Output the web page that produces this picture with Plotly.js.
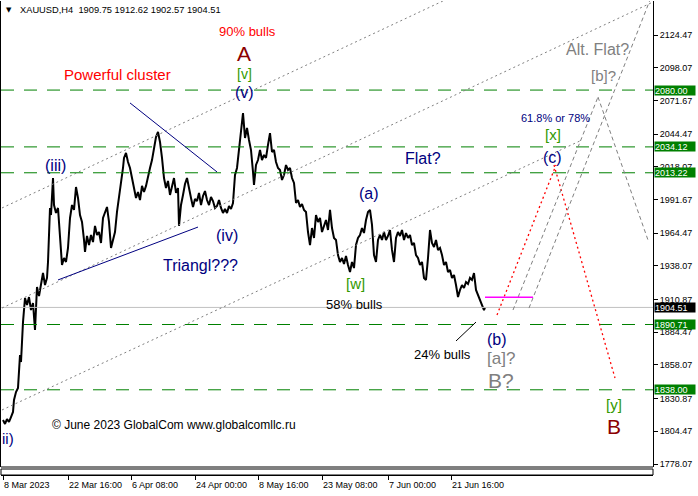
<!DOCTYPE html>
<html><head><meta charset="utf-8">
<script src="https://cdn.plot.ly/plotly-3.0.1.min.js"></script>
<style>html,body{margin:0;padding:0;background:#fff}#chart{width:698px;height:496px}</style>
</head><body><div id="chart"></div>
<script>
// ---- data ----
const bars = [0,2,4,6,8,10,11,13,15,16,17,18,19,20,21,22,24,26,28,30,32,33,34,36,38,40,42,44,45,46,47,48,50,51,53,55,57,58,59,61,63,65,67,69,71,73,75,77,79,81,82,84,86,88,90,92,94,96,98,100,102,104,106,108,110,112,114,116,118,120,121,123,125,127,129,131,133,135,137,139,141,143,145,147,149,151,153,155,157,159,161,163,165,167,169,171,173,175,176,178,180,182,184,186,188,190,192,194,196,198,200,202,204,206,208,210,212,214,216,218,220,222,224,226,228,230,232,234,236,238,240,242,244,246,248,250,251,253,255,257,259,261,263,265,267,269,271,273,275,277,279,281,283,285,287,289,291,293,295,297,299,301,303,305,307,309,311,313,315,317,319,321,323,325,327,329,331,333,335,337,339,341,343,345,347,349,351,353,355,357,359,361,363,365,367,369,371,373,375,377,379,381,383,385,387,389,391,393,395,397,399,401,403,405,407,409,411,413,415,417,419,421,423,425,427,429,431,433,435,437,439,441,443,445,447,449,451,453,455,457,459,461,463,465,467,469,471,473,475,477,479,481,482];
const closes = [1813.6,1810.4,1814.4,1812.0,1816.0,1820.1,1829.8,1836.2,1839.5,1852.4,1866.1,1860.4,1882.2,1892.7,1902.4,1912.1,1906.5,1912.9,1902.4,1908.1,1886.3,1900.8,1921.0,1913.7,1922.6,1932.3,1922.6,1928.3,1941.2,1959.0,1984.8,1979.1,2009.0,1987.2,1980.8,1984.8,1963.0,1950.9,1938.8,1944.4,1941.2,1952.5,1976.7,1987.2,1983.2,2001.7,1992.9,1979.1,1973.5,1959.0,1949.3,1962.2,1954.9,1963.0,1957.3,1970.3,1963.0,1965.4,1956.5,1976.7,1981.6,1985.6,1973.5,1952.5,1959.0,1965.4,1981.6,1992.9,2003.4,2017.1,2025.2,2029.2,2021.9,2017.1,2009.0,1999.3,1992.9,1997.7,1991.2,2002.6,1997.7,2002.6,2011.4,2017.1,2023.5,2033.2,2042.1,2046.2,2038.1,2025.2,2009.0,2000.9,2006.6,1995.3,2002.6,2009.0,1996.9,2000.9,1970.3,1987.2,1995.3,2004.2,2009.0,1999.3,1992.9,1985.6,1992.1,1990.4,1996.9,1987.2,1994.5,1998.5,1991.2,1987.2,1993.7,1990.4,1984.8,1986.4,1991.2,1984.8,1980.8,1984.0,1980.8,1986.4,1984.0,1988.8,2011.4,2017.1,2031.6,2049.4,2061.5,2041.3,2049.4,2039.7,2031.6,2013.9,2003.4,2019.5,2023.5,2031.6,2023.5,2027.6,2025.2,2035.7,2045.3,2030.0,2031.6,2021.9,2017.1,2015.5,2007.4,2011.4,2019.5,2015.5,2017.1,2009.0,2005.0,1988.8,1991.2,1985.6,1988.0,1983.2,1981.6,1965.4,1954.9,1968.6,1960.6,1979.1,1973.5,1976.7,1965.4,1970.3,1975.1,1967.0,1983.2,1968.6,1960.6,1959.0,1946.8,1941.2,1944.4,1939.6,1946.0,1938.8,1933.1,1941.2,1936.3,1954.9,1960.6,1963.0,1968.6,1964.6,1975.1,1981.6,1983.2,1971.1,1946.8,1941.2,1959.0,1963.0,1959.0,1965.4,1959.0,1962.2,1967.0,1950.9,1941.2,1960.6,1965.4,1962.2,1967.0,1959.0,1964.6,1960.6,1963.0,1954.9,1956.5,1946.8,1944.4,1938.8,1941.2,1928.3,1926.7,1944.4,1967.0,1956.5,1953.3,1959.0,1950.9,1952.5,1946.8,1938.8,1941.2,1933.1,1934.7,1928.3,1930.7,1922.6,1912.9,1918.6,1922.6,1920.2,1925.0,1923.4,1928.3,1926.7,1932.3,1918.6,1914.5,1910.5,1907.3,1902.4,1904.51];

const priceTicks = [2124.47,2098.07,2071.67,2044.47,2018.07,1991.67,1964.47,1938.07,1910.87,1884.47,1858.07,1830.87,1804.47,1778.07];
const timeTickBars = [0,65,128,192,255,319,385,448];
const timeTickLabels = ['8 Mar 2023','22 Mar 16:00','6 Apr 08:00','24 Apr 00:00','8 May 16:00','23 May 08:00','7 Jun 00:00','21 Jun 16:00'];
const levels = [2080.00,2034.12,2013.22,1890.71,1838.00];
const lastPrice = 1904.51;
const lastHigh = 1912.62;
const header = 'XAUUSD,H4  1909.75 1912.62 1902.57 1904.51';

// trend lines [bar0, price0, bar1, price1]
const channelLines = [[-1,1984.8,442,2152.7],[-1,1904.0,650,2151.1],[-1,1821.7,579,2039.7]];
const clusterLine = [127,2069.6,214,2013.9];
const triangleLine = [55,1926.7,195,1969.4];
const bullsPointer = [453,1877.4,473,1892.7];
const redPath = [[494,1898.4,553,2019.5],[551,2019.5,612,1847.5]];
const altPath = [[510,1902.4,595,2074.4],[595,2074.4,645,1958.9],[526,1904.0,647,2152.7]];
const magentaLine = [482,lastHigh,530,lastHigh];

// labels [text, bar, price, size, color]
const NAVY='#000080', GREEN='#339900', DRED='#8b0000', RED='#ff0000', GRAY='#808080';
const labels = [
 ['90% bulls',244,2127.7,13,RED],
 ['A',241,2109.9,21,DRED],
 ['[v]',241,2093.0,14,GREEN],
 ['(v)',241,2078.4,16,NAVY],
 ['Powerful cluster',114,2092.2,15,RED],
 ['(iii)',52,2019.5,16,NAVY],
 ['(iv)',224,1962.2,16,NAVY],
 ['Triangl???',197,1938.0,16,NAVY],
 ['(a)',366,1996.1,16,NAVY],
 ['Flat?',420,2024.4,16,NAVY],
 ['[w]',352,1924.2,15,GREEN],
 ['58% bulls',351,1906.5,13,'#000000'],
 ['24% bulls',439,1866.9,13,'#000000'],
 ['(b)',494,1879.0,16,NAVY],
 ['[a]?',498,1862.9,17,GRAY],
 ['B?',498,1845.9,21,GRAY],
 ['[y]',611,1826.5,15,GREEN],
 ['B',611,1808.0,21,DRED],
 ['(c)',549,2025.2,16,NAVY],
 ['[x]',550,2044.5,15,GREEN],
 ['61.8% or 78%',552,2057.5,11,NAVY],
 ['Alt. Flat?',594,2112.4,16,GRAY],
 ['[b]?',600,2091.4,15,GRAY],
 ['ii)',5,1798.3,15,NAVY]
];

// ---- layout geometry ----
const H=496, W=698, mt=1, mb=21, ml=1, mr=45;
const plotH = H-mt-mb;              // 474
const paneBottom = 467;
const dom0 = (mt+plotH-paneBottom)/plotH;
const pyToPaper = py => (mt+plotH-py)/plotH;
const pxToPaper = px => (px-ml)/(W-ml-mr);
const FONT = 'Liberation Sans, Arial, sans-serif';

const shapes = [];
function seg(s, color, dash, width){
  shapes.push({type:'line',xref:'x',yref:'y',x0:s[0],y0:s[1],x1:s[2],y1:s[3],line:{color:color,dash:dash,width:width||1}});
}
levels.forEach(v=>shapes.push({type:'line',xref:'paper',yref:'y',x0:0,x1:1,y0:v,y1:v,line:{color:'#008000',width:1,dash:'13px,10px'}}));
shapes.push({type:'line',xref:'paper',yref:'y',x0:0,x1:1,y0:lastPrice,y1:lastPrice,line:{color:'#c0c0c0',width:1}});
channelLines.forEach(s=>seg(s,'#808080','2px,3px'));
seg(clusterLine,'#000080','solid');
seg(triangleLine,'#000080','solid');
seg(bullsPointer,'#000000','solid');
redPath.forEach(s=>seg(s,'#ff0000','2px,3px',1.3));
altPath.forEach(s=>seg(s,'#808080','4px,3px'));
seg(magentaLine,'#ff00ff','solid',1.5);
// pane bottom line and the empty sub-window strip
shapes.push({type:'line',xref:'paper',yref:'paper',x0:0,x1:1,y0:dom0,y1:dom0,line:{color:'#000',width:1}});
shapes.push({type:'rect',xref:'paper',yref:'paper',x0:0,x1:1,y0:0,y1:pyToPaper(469),line:{color:'#000',width:1},fillcolor:'#fff',layer:'above'});

const annotations = [];
labels.forEach(l=>annotations.push({text:l[0],x:l[1],y:l[2],xref:'x',yref:'y',showarrow:false,xanchor:'center',yanchor:'middle',font:{family:FONT,size:l[3],color:l[4]}}));
// price level boxes
levels.forEach(v=>annotations.push({text:v.toFixed(2),x:1,xref:'paper',y:v,yref:'y',xanchor:'left',yanchor:'middle',xshift:1,showarrow:false,bgcolor:'#008000',width:40,height:9,borderpad:0,align:'left',font:{family:FONT,size:9,color:'#fff'}}));
annotations.push({text:lastPrice.toFixed(2),x:1,xref:'paper',y:lastPrice,yref:'y',xanchor:'left',yanchor:'middle',xshift:1,showarrow:false,bgcolor:'#000',width:40,height:9,borderpad:0,align:'left',font:{family:FONT,size:9,color:'#fff'}});
// time labels
timeTickBars.forEach((b,i)=>annotations.push({text:timeTickLabels[i],x:b,xref:'x',y:pyToPaper(485),yref:'paper',xanchor:'left',yanchor:'middle',xshift:-1,showarrow:false,font:{family:FONT,size:9,color:'#000'}}));
// header
annotations.push({text:'▼',x:pxToPaper(9),y:pyToPaper(10),xref:'paper',yref:'paper',xanchor:'center',yanchor:'middle',showarrow:false,font:{family:'DejaVu Sans',size:7,color:'#000'}});
annotations.push({text:header,x:pxToPaper(18),y:pyToPaper(10),xref:'paper',yref:'paper',xanchor:'left',yanchor:'middle',showarrow:false,font:{family:FONT,size:9.3,color:'#000'}});
annotations.push({text:'© June 2023 GlobalCom www.globalcomllc.ru',x:pxToPaper(50),y:pyToPaper(425),xref:'paper',yref:'paper',xanchor:'left',yanchor:'middle',showarrow:false,font:{family:FONT,size:12,color:'#000'}});

const trace = {x:bars,y:closes,type:'scatter',mode:'lines',line:{color:'#000',width:2},hoverinfo:'skip',showlegend:false};

const layout = {
  width:W,height:H,margin:{l:ml,r:mr,t:mt,b:mb,pad:0},
  paper_bgcolor:'#fff',plot_bgcolor:'#fff',showlegend:false,
  xaxis:{range:[-2,650],anchor:'free',position:0,showline:true,linecolor:'#000',linewidth:1,ticks:'outside',ticklen:4,tickcolor:'#000',tickvals:timeTickBars,showticklabels:false,showgrid:false,zeroline:false,fixedrange:true},
  yaxis:{domain:[dom0,1],range:[1775.66,2151.92],side:'right',showline:true,mirror:true,linecolor:'#000',linewidth:1,ticks:'outside',ticklen:4,tickcolor:'#000',tickvals:priceTicks,ticktext:priceTicks.map(v=>v.toFixed(2)),tickfont:{family:FONT,size:9,color:'#000'},showgrid:false,zeroline:false,fixedrange:true},
  shapes:shapes,annotations:annotations
};
Plotly.newPlot('chart',[trace],layout,{staticPlot:true,displayModeBar:false});
</script></body></html>
